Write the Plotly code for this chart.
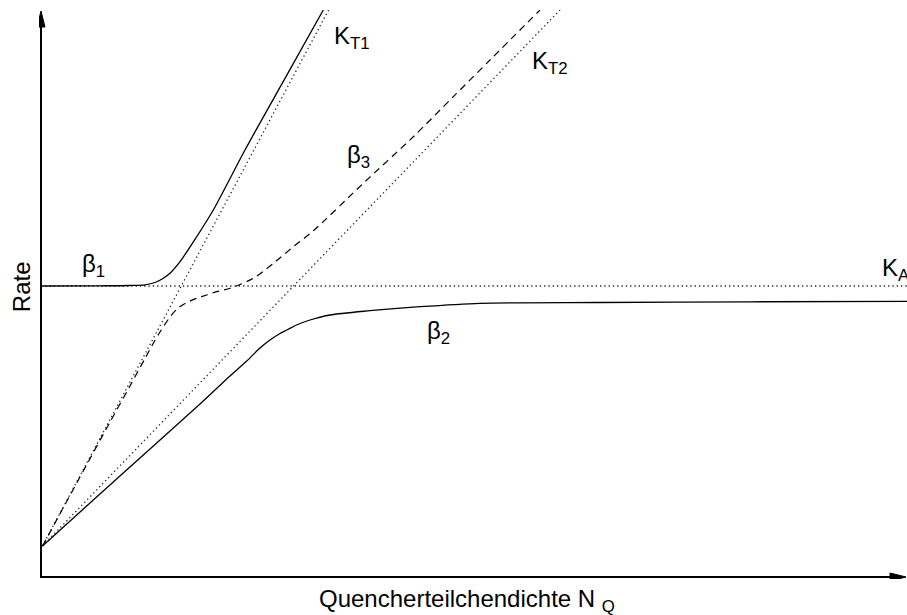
import plotly.graph_objects as go

# Values (arbitrary units)
kt1_x = [0.015, 2.876]
kt1_y = [0.31, 5.67]
kt2_x = [0.015, 5.19]
kt2_y = [0.31, 5.67]
ka_x = [0.0, 8.66]
ka_y = [2.91, 2.91]

beta1_x = [0.0, 0.59, 0.89, 1.04, 1.14, 1.22, 1.29, 1.39, 1.557, 1.723, 2.04, 2.44, 2.823]
beta1_y = [2.91, 2.912, 2.915, 2.922, 2.945, 2.985, 3.037, 3.153, 3.403, 3.67, 4.27, 4.986, 5.67]

beta2_x = [0.015, 0.523, 1.09, 1.59, 1.89, 2.057, 2.19, 2.29, 2.39, 2.49, 2.59, 2.69, 2.89, 3.29, 3.79, 4.39, 5.59, 7.09, 8.66]
beta2_y = [0.31, 0.77, 1.28, 1.73, 2.01, 2.16, 2.29, 2.37, 2.435, 2.487, 2.535, 2.57, 2.62, 2.663, 2.703, 2.737, 2.745, 2.752, 2.757]

beta3_x = [0.015, 0.39, 0.69, 0.89, 1.04, 1.123, 1.19, 1.29, 1.36, 1.44, 1.557, 1.657, 1.757, 1.89, 1.99,
           2.123, 2.22, 2.34, 2.523, 2.723, 3.223, 3.723, 4.123, 4.49, 4.99]
beta3_y = [0.31, 1.00, 1.55, 1.91, 2.185, 2.337, 2.45, 2.60, 2.68, 2.735, 2.787, 2.82, 2.853, 2.887, 2.925,
           2.987, 3.055, 3.15, 3.303, 3.462, 3.937, 4.403, 4.803, 5.17, 5.67]

fig = go.Figure()

dot_style = dict(color="#222222", width=1.3, dash="1.3px,3px")
fig.add_trace(go.Scatter(x=kt1_x, y=kt1_y, mode="lines", line=dot_style))
fig.add_trace(go.Scatter(x=kt2_x, y=kt2_y, mode="lines", line=dot_style))
fig.add_trace(go.Scatter(x=ka_x, y=ka_y, mode="lines", line=dot_style))

fig.add_trace(go.Scatter(x=beta1_x, y=beta1_y, mode="lines",
                         line=dict(color="black", width=1.3, shape="spline", smoothing=0.8)))
fig.add_trace(go.Scatter(x=beta2_x, y=beta2_y, mode="lines",
                         line=dict(color="black", width=1.3, shape="spline", smoothing=0.8)))
fig.add_trace(go.Scatter(x=beta3_x, y=beta3_y, mode="lines",
                         line=dict(color="black", width=1.2, dash="7px,5px", shape="spline", smoothing=0.8)))

font = dict(family="Liberation Sans, Arial, sans-serif", size=24, color="black")

labels = [
    ("β<sub>1</sub>", 0.39, 3.12),
    ("β<sub>3</sub>", 3.04, 4.21),
    ("β<sub>2</sub>", 3.84, 2.45),
    ("K<sub>T1</sub>", 2.91, 5.40),
    ("K<sub>T2</sub>", 4.89, 5.15),
    ("K<sub>A</sub>", 8.385, 3.08),
]
for txt, lx, ly in labels:
    fig.add_annotation(x=lx, y=ly, xref="x", yref="y", text=txt, showarrow=False,
                       xanchor="left", yanchor="middle", font=font)

fig.add_annotation(x=-0.0207, y=0.513, xref="paper", yref="paper", text="Rate", textangle=-90,
                   showarrow=False, xanchor="center", yanchor="middle", font=font)
fig.add_annotation(x=0.493, y=-0.037, xref="paper", yref="paper", text="Quencherteilchendichte N <sub>Q</sub>",
                   showarrow=False, xanchor="center", yanchor="middle", font=font)

# Axes with arrowheads
fig.add_shape(type="line", x0=0, y0=-0.01, x1=0, y1=5.55, xref="x", yref="y",
              line=dict(color="black", width=2))
fig.add_shape(type="line", x0=-0.01, y0=0, x1=8.55, y1=0, xref="x", yref="y",
              line=dict(color="black", width=2))
fig.add_shape(type="path", path="M -0.04,5.50 L 0.04,5.50 L 0,5.66 Z", xref="x", yref="y",
              fillcolor="black", line=dict(color="black", width=1))
fig.add_shape(type="path", path="M 8.49,-0.04 L 8.49,0.04 L 8.65,0 Z", xref="x", yref="y",
              fillcolor="black", line=dict(color="black", width=1))

fig.update_layout(
    width=907, height=615,
    margin=dict(l=39, r=0, t=10, b=36),
    paper_bgcolor="white", plot_bgcolor="white",
    showlegend=False,
    xaxis=dict(range=[-0.02, 8.66], visible=False, fixedrange=True),
    yaxis=dict(range=[-0.02, 5.67], visible=False, fixedrange=True),
)

fig.write_html("out.html")
